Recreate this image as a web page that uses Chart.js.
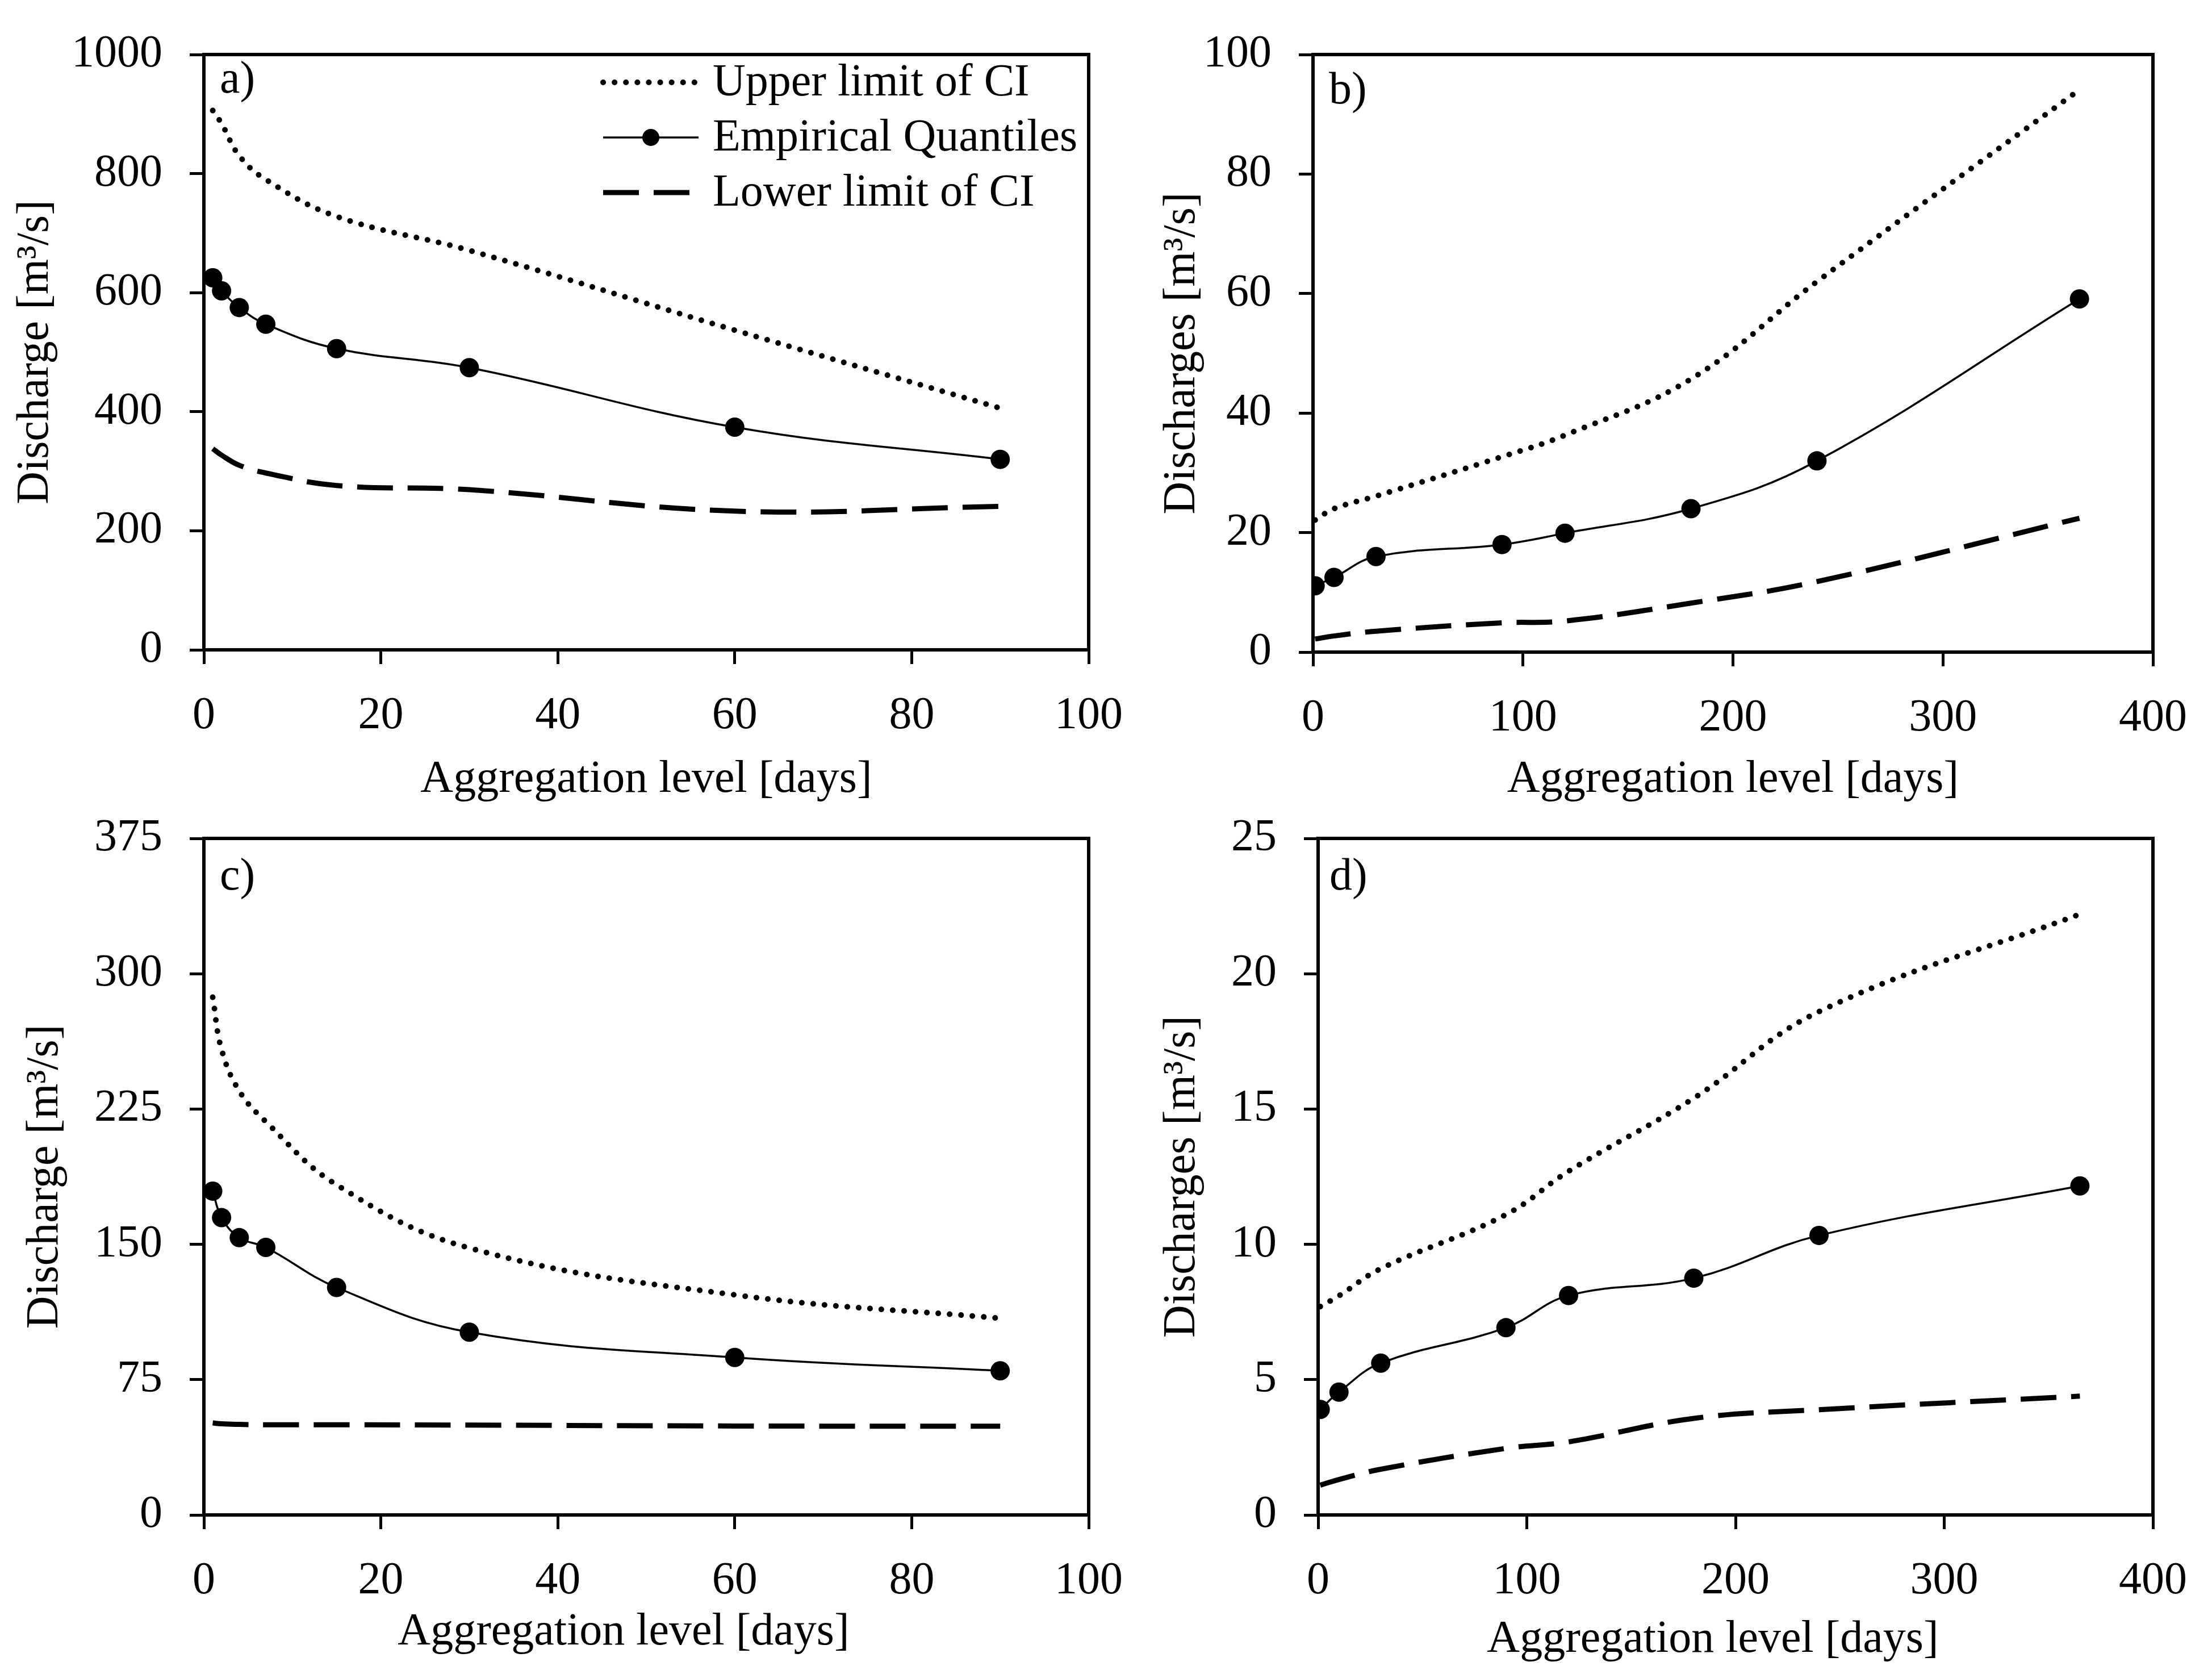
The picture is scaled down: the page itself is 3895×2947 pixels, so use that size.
<!DOCTYPE html>
<html>
<head>
<meta charset="utf-8">
<script src="https://cdn.jsdelivr.net/npm/chart.js@4.4.1/dist/chart.umd.min.js"></script>
<style>
body { margin: 0; background: #fff; width: 3895px; height: 2947px; position: relative; overflow: hidden; }
canvas { position: absolute; }
</style>
</head>
<body>
<canvas id="chartA" width="2050" height="1470" style="left:0px;top:0px"></canvas>
<canvas id="chartB" width="1895" height="1470" style="left:2000px;top:0px"></canvas>
<canvas id="chartC" width="2050" height="1567" style="left:0px;top:1380px"></canvas>
<canvas id="chartD" width="1895" height="1567" style="left:2000px;top:1380px"></canvas>
<script>
// aggregation levels [days]
var daysShort = [1, 2, 4, 7, 15, 30, 60, 90];
var daysLong = [1, 10, 30, 90, 120, 180, 240, 365];

// a)
var upperA = [906, 884, 830, 790, 728, 671, 537, 406];
var empA = [625, 603, 575, 547, 506, 474, 374, 320];
var lowerA = [338, 327, 310, 297, 276, 269, 233, 241];
// b)
var upperB = [22.1, 24.0, 26.1, 32.7, 36.3, 45.7, 62.0, 94.1];
var empB = [11.1, 12.5, 16.0, 18.0, 19.9, 24.0, 32.0, 59.1];
var lowerB = [2.2, 2.7, 3.5, 4.9, 5.2, 8.2, 11.8, 22.4];
// c)
var upperC = [287, 258, 235, 218, 183, 148, 122, 109];
var empC = [179.5, 164.8, 153.7, 148.3, 126.1, 101.3, 87.3, 79.9];
var lowerC = [51, 50.5, 50.2, 50, 50, 49.8, 49.3, 49.2];
// d)
var upperD = [7.7, 8.1, 9.1, 11.1, 12.7, 15.4, 18.6, 22.2];
var empD = [3.9, 4.54, 5.61, 6.92, 8.11, 8.75, 10.33, 12.16];
var lowerD = [1.1, 1.31, 1.69, 2.46, 2.7, 3.57, 3.89, 4.39];

var seriesNames = ['Upper limit of CI', 'Empirical Quantiles', 'Lower limit of CI'];

Chart.defaults.font.family = '"Liberation Serif", "Times New Roman", serif';
Chart.defaults.font.size = 80;
Chart.defaults.color = '#000';

function pts(xs, ys) {
    return xs.map(function (x, i) { return { x: x, y: ys[i] }; });
}

// box around the plot + panel letter
var framePlugin = {
    id: 'frame',
    afterDraw: function (chart, args, opts) {
        var a = chart.chartArea, ctx = chart.ctx;
        ctx.save();
        ctx.strokeStyle = '#000';
        ctx.lineWidth = 6;
        ctx.strokeRect(a.left, a.top, a.right - a.left, a.bottom - a.top);
        ctx.fillStyle = '#000';
        ctx.font = '80px "Liberation Serif"';
        ctx.textBaseline = 'middle';
        ctx.fillText(opts.letter, a.left + opts.dx, a.top + opts.dy);
        ctx.restore();
    }
};

// legend drawn inside panel a
var innerLegend = {
    id: 'innerLegend',
    afterDraw: function (chart, args, opts) {
        if (!opts.show) return;
        var ctx = chart.ctx;
        ctx.save();
        chart.data.datasets.forEach(function (ds, i) {
            var y = opts.rows[i];
            ctx.beginPath();
            ctx.strokeStyle = '#000';
            ctx.lineWidth = ds.borderWidth;
            ctx.lineCap = ds.borderCapStyle || 'butt';
            ctx.setLineDash(ds.borderDash || []);
            ctx.moveTo(opts.x0, y);
            ctx.lineTo(opts.x1, y);
            ctx.stroke();
            ctx.setLineDash([]);
            if (ds.pointRadius > 0) {
                ctx.beginPath();
                ctx.fillStyle = '#000';
                ctx.arc((opts.x0 + opts.x1) / 2, y, 15, 0, Math.PI * 2);
                ctx.fill();
            }
            ctx.fillStyle = '#000';
            ctx.font = '80px "Liberation Serif"';
            ctx.textBaseline = 'middle';
            ctx.fillText(ds.label, opts.textX, y + 2);
        });
        ctx.restore();
    }
};

function makePanel(id, p) {
    return new Chart(document.getElementById(id), {
        type: 'line',
        data: {
            datasets: [{
                label: seriesNames[0],
                data: pts(p.days, p.upper),
                borderColor: '#000',
                borderWidth: 10,
                borderDash: [0.1, 20],
                borderCapStyle: 'round',
                pointRadius: 0,
                tension: 0.4
            }, {
                label: seriesNames[1],
                data: pts(p.days, p.emp),
                borderColor: '#000',
                borderWidth: 3.5,
                pointRadius: 17,
                pointBackgroundColor: '#000',
                pointBorderWidth: 0,
                tension: 0.4
            }, {
                label: seriesNames[2],
                data: pts(p.days, p.lower),
                borderColor: '#000',
                borderWidth: 9,
                borderDash: [63, 26],
                pointRadius: 0,
                tension: 0.4
            }]
        },
        options: {
            responsive: false,
            animation: false,
            devicePixelRatio: 1,
            layout: { padding: { top: p.padTop, right: p.padRight, left: 0, bottom: 0 } },
            plugins: {
                legend: { display: false },
                tooltip: { enabled: false },
                frame: { letter: p.letter, dx: p.letterDx, dy: p.letterDy },
                innerLegend: { show: !!p.legend, x0: 1062, x1: 1230, textX: 1255, rows: [145, 242, 339] }
            },
            scales: {
                x: {
                    type: 'linear',
                    min: 0,
                    max: p.xMax,
                    ticks: { stepSize: p.xStep, padding: 44, maxRotation: 0, autoSkip: false,
                             callback: function (v) { return String(v); } },
                    grid: { drawOnChartArea: false, drawTicks: true, tickLength: 25, tickWidth: 5, tickColor: '#000' },
                    border: { display: true, color: '#000', width: 6 },
                    title: { display: true, text: p.xTitle, padding: { top: 0, bottom: p.xTitlePad } },
                    afterFit: function (s) { s.height = p.xH; }
                },
                y: {
                    min: 0,
                    max: p.yMax,
                    ticks: { stepSize: p.yStep, padding: 48,
                             callback: function (v) { return String(v); } },
                    grid: { drawOnChartArea: false, drawTicks: true, tickLength: 25, tickWidth: 5, tickColor: '#000' },
                    border: { display: true, color: '#000', width: 6 },
                    title: { display: true, text: p.yTitle, padding: { top: p.yTitlePad, bottom: 0 } },
                    afterFit: function (s) { s.width = p.yW; }
                }
            }
        },
        plugins: [framePlugin, innerLegend]
    });
}

makePanel('chartA', {
    days: daysShort, upper: upperA, emp: empA, lower: lowerA,
    xMax: 100, xStep: 20, yMax: 1000, yStep: 200,
    yTitle: 'Discharge [m³/s]', xTitle: 'Aggregation level [days]',
    padTop: 43, padRight: 133, yW: 359, xH: 326, xTitlePad: 49, yTitlePad: 15,
    letter: 'a)', letterDx: 28, letterDy: 46, legend: true
});
makePanel('chartB', {
    days: daysLong, upper: upperB, emp: empB, lower: lowerB,
    xMax: 400, xStep: 100, yMax: 100, yStep: 20,
    yTitle: 'Discharges [m³/s]', xTitle: 'Aggregation level [days]',
    padTop: 43, padRight: 76, yW: 312, xH: 322, xTitlePad: 49, yTitlePad: 34,
    letter: 'b)', letterDx: 28, letterDy: 65
});
makePanel('chartC', {
    days: daysShort, upper: upperC, emp: empC, lower: lowerC,
    xMax: 100, xStep: 20, yMax: 375, yStep: 75,
    yTitle: 'Discharge [m³/s]', xTitle: 'Aggregation level [days]\u00a0\u00a0\u00a0\u00a0',
    padTop: 92, padRight: 133, yW: 359, xH: 280, xTitlePad: 25, yTitlePad: 32,
    letter: 'c)', letterDx: 28, letterDy: 69
});
makePanel('chartD', {
    days: daysLong, upper: upperD, emp: empD, lower: lowerD,
    xMax: 400, xStep: 100, yMax: 25, yStep: 5,
    yTitle: 'Discharges [m³/s]', xTitle: 'Aggregation level [days]\u00a0\u00a0\u00a0\u00a0',
    padTop: 93, padRight: 76, yW: 321, xH: 280, xTitlePad: 12, yTitlePad: 34,
    letter: 'd)', letterDx: 20, letterDy: 69
});
</script>
</body>
</html>
